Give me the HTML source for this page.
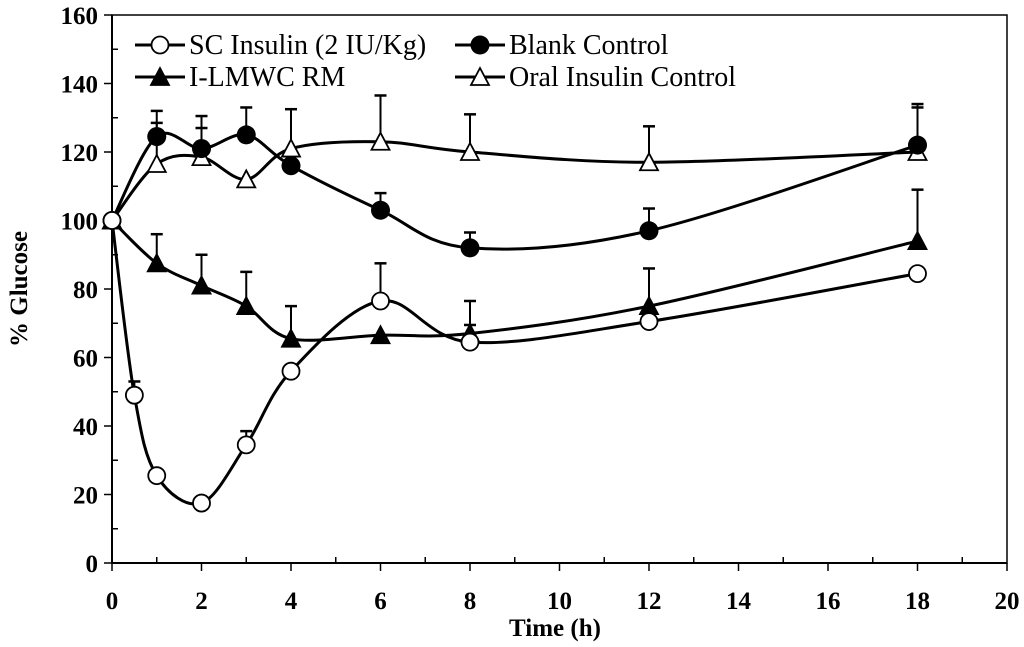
<!DOCTYPE html>
<html><head><meta charset="utf-8"><style>
body{margin:0;background:#fff}
svg{display:block;font-family:"Liberation Serif",serif}
</style></head><body>
<svg id="c" width="1024" height="647"></svg>
<script>
const scX=[0,0.5,1,2,3,4,6,8,12,18];
const scY=[100,49,25.5,17.5,34.5,56,76.5,64.5,70.5,84.5];
const scE=[0,4,0,0,4,0,11,5,0,0];
const bcX=[0,1,2,3,4,6,8,12,18];
const bcY=[100,124.5,121,125,116,103,92,97,122];
const bcE=[0,7.5,6,8,0,5,4.5,6.5,12];
const ilX=[0,1,2,3,4,6,8,12,18];
const ilY=[100,87.5,81,75,65.5,66.5,67,75,94];
const ilE=[0,8.5,9,10,9.5,0,9.5,11,15];
const orX=[0,1,2,3,4,6,8,12,18];
const orY=[100,116.5,118.5,112,121,123,120,117,120];
const orE=[0,12,12,0,11.5,13.5,11,10.5,13];
const xTicks=[0,2,4,6,8,10,12,14,16,18,20];
const yTicks=[0,20,40,60,80,100,120,140,160];

const L=112,R=1007,T=15,B=563;
const sx=v=>L+(v/20)*(R-L);
const sy=v=>B-(v/160)*(B-T);
const svg=document.getElementById('c');
const NS='http://www.w3.org/2000/svg';
function mk(tag,attrs,parent){const e=document.createElementNS(NS,tag);for(const k in attrs)e.setAttribute(k,attrs[k]);(parent||svg).appendChild(e);return e;}

const frame=mk('rect',{x:L,y:T,width:R-L,height:B-T,fill:'none',stroke:'#000','stroke-width':1.5});


mk('line',{x1:L,y1:T,x2:L,y2:B,stroke:'#000','stroke-width':2});
mk('line',{x1:L,y1:B,x2:R,y2:B,stroke:'#000','stroke-width':2});

for(let i=0;i<=20;i++){
  const x=sx(i);
  if(i%2===0) mk('line',{x1:x,y1:B,x2:x,y2:B+8,stroke:'#000','stroke-width':1.5});
  else mk('line',{x1:x,y1:B,x2:x,y2:B-6,stroke:'#000','stroke-width':1.5});
}
xTicks.forEach(v=>{const t=mk('text',{x:sx(v),y:B+46,'text-anchor':'middle','font-size':25,'font-weight':'bold'});t.textContent=v;

});
for(let v=0;v<=160;v+=10){
  const y=sy(v);
  if(v%20===0) mk('line',{x1:L-8,y1:y,x2:L,y2:y,stroke:'#000','stroke-width':1.5});
  else mk('line',{x1:L,y1:y,x2:L+6,y2:y,stroke:'#000','stroke-width':1.5});
}
yTicks.forEach(v=>{const t=mk('text',{x:L-14,y:sy(v)+9,'text-anchor':'end','font-size':25,'font-weight':'bold'});t.textContent=v;

});
const xt=mk('text',{x:555,y:636,'text-anchor':'middle','font-size':25,'font-weight':'bold'});xt.textContent='Time (h)';


const yt=mk('text',{x:0,y:0,'text-anchor':'middle','font-size':25,'font-weight':'bold',transform:`translate(27,${(T+B)/2}) rotate(-90)`});yt.textContent='% Glucose';



function curve(xs,ys){
  const p=xs.map((x,i)=>[sx(x),sy(ys[i])]);
  let d=`M${p[0][0]},${p[0][1]}`;
  for(let i=0;i<p.length-1;i++){
    const p0=p[i-1]||p[i],p1=p[i],p2=p[i+1],p3=p[i+2]||p[i+1];
    const k=1/6;
    d+=` C${p1[0]+(p2[0]-p0[0])*k},${p1[1]+(p2[1]-p0[1])*k} ${p2[0]-(p3[0]-p1[0])*k},${p2[1]-(p3[1]-p1[1])*k} ${p2[0]},${p2[1]}`;
  }
  return d;
}
function marker(g,type,x,y){
  if(type==='circle-open') mk('circle',{cx:x,cy:y,r:8.5,fill:'#fff',stroke:'#000','stroke-width':1.8},g);
  else if(type==='circle-fill') mk('circle',{cx:x,cy:y,r:9.5,fill:'#000'},g);
  else {const fill=type==='tri-fill'?'#000':'#fff';
    mk('polygon',{points:`${x},${y-9} ${x-9},${y+8} ${x+9},${y+8}`,fill:fill,stroke:'#000','stroke-width':1.8},g);}
}
function series(name,xs,ys,es,type){
  const g=mk('g',{});
  
  
  xs.forEach((x,i)=>{if(es[i]>0){const X=sx(x),y1=sy(ys[i]),y2=sy(ys[i]+es[i]);
    mk('line',{x1:X,y1:y1,x2:X,y2:y2,stroke:'#000','stroke-width':2},g);
    mk('line',{x1:X-6,y1:y2,x2:X+6,y2:y2,stroke:'#000','stroke-width':2.5},g);}});
  mk('path',{d:curve(xs,ys),fill:'none',stroke:'#000','stroke-width':3},g);
  xs.forEach((x,i)=>marker(g,type,sx(x),sy(ys[i])));
}
series('series-oral-insulin-control',orX,orY,orE,'tri-open');
series('series-blank-control',bcX,bcY,bcE,'circle-fill');
series('series-i-lmwc-rm',ilX,ilY,ilE,'tri-fill');
series('series-sc-insulin',scX,scY,scE,'circle-open');

const legend=[['SC Insulin (2 IU/Kg)','circle-open',135,45],['Blank Control','circle-fill',455,45],['I-LMWC RM','tri-fill',135,77],['Oral Insulin Control','tri-open',455,77]];
legend.forEach(l=>{const g=mk('g',{});
  
  
  mk('line',{x1:l[2],y1:l[3],x2:l[2]+50,y2:l[3],stroke:'#000','stroke-width':3},g);
  marker(g,l[1],l[2]+25,l[3]);
  const t=mk('text',{x:l[2]+54,y:l[3]+9,'font-size':28},g);t.textContent=l[0];});
</script>
</body></html>
